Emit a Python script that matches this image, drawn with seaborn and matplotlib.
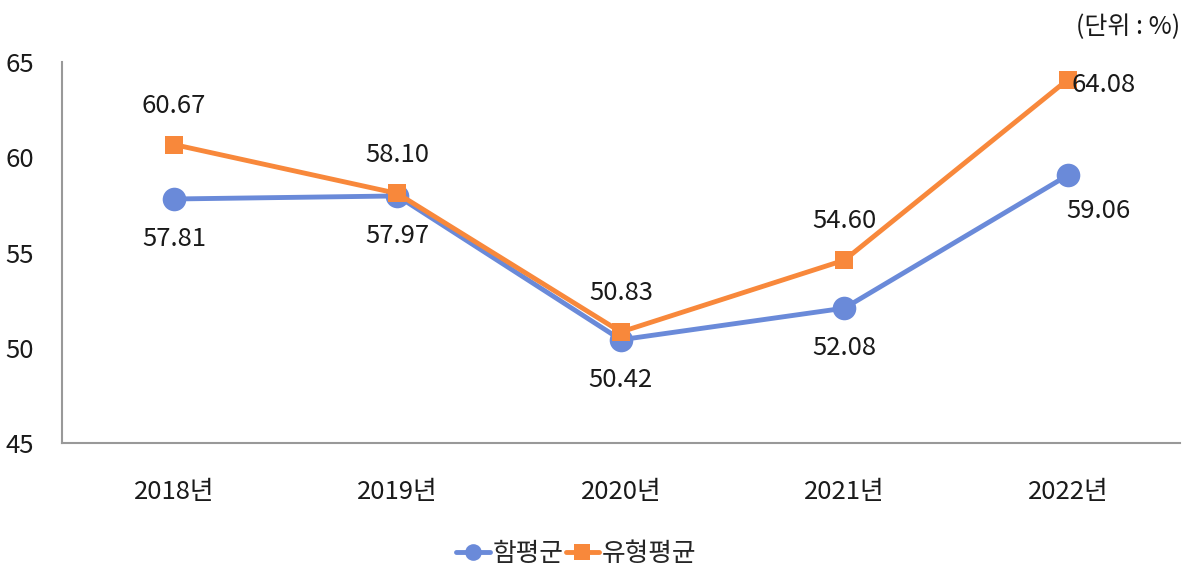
import pandas as pd
import matplotlib.pyplot as plt
import seaborn as sns

years = ['2018년', '2019년', '2020년', '2021년', '2022년']
ham = [57.81, 57.97, 50.42, 52.08, 59.06]
yuhyeong = [60.67, 58.10, 50.83, 54.60, 64.08]
series_names = ['함평군', '유형평균']

sns.set_style('white')
plt.rcParams['font.family'] = ['Noto Sans CJK KR', 'DejaVu Sans']

df = pd.DataFrame({
    'year': years * 2,
    'value': ham + yuhyeong,
    'series': [series_names[0]] * 5 + [series_names[1]] * 5,
})
df['x'] = list(range(5)) * 2

blue = '#6A8AD9'
orange = '#F8883B'
txt = '#1a1a1a'
fs = 18.5

fig = plt.figure(figsize=(11.94, 5.69), dpi=100)
ax = fig.add_axes([0.052, 0.2214, 0.936, 0.6696])

sns.lineplot(data=df, x='x', y='value', hue='series', style='series',
             palette=[blue, orange], markers=['o', 's'], dashes=False,
             markersize=15, linewidth=3.5, markeredgewidth=0, ax=ax)
ax.lines[0].set_markersize(17)
ax.lines[1].set_markersize(13)

ax.set_xlim(-0.5, 4.5)
ax.set_ylim(45, 65)
ax.set_yticks([45, 50, 55, 60, 65])
ax.set_xticks(range(5))
ax.set_xticklabels(years)
ax.set_xlabel('')
ax.set_ylabel('')
ax.tick_params(axis='both', length=0, labelsize=fs, colors=txt)
ax.tick_params(axis='x', pad=26)
ax.tick_params(axis='y', pad=20)
for s in ['top', 'right']:
    ax.spines[s].set_visible(False)
for s in ['left', 'bottom']:
    ax.spines[s].set_color('#999999')
    ax.spines[s].set_linewidth(1.5)

# data labels
for i in range(5):
    if i < 4:
        ax.annotate(f'{ham[i]:.2f}', (i, ham[i]), xytext=(0, -29), textcoords='offset points',
                    ha='center', va='center', fontsize=fs, color=txt)
        ax.annotate(f'{yuhyeong[i]:.2f}', (i, yuhyeong[i]), xytext=(0, 28), textcoords='offset points',
                    ha='center', va='center', fontsize=fs, color=txt)
    else:
        ax.annotate(f'{ham[i]:.2f}', (i, ham[i]), xytext=(22, -26), textcoords='offset points',
                    ha='center', va='center', fontsize=fs, color=txt)
        ax.annotate(f'{yuhyeong[i]:.2f}', (i, yuhyeong[i]), xytext=(26, -4), textcoords='offset points',
                    ha='center', va='center', fontsize=fs, color=txt)

fig.text(0.988, 0.953, '(단위 : %)', ha='right', va='center', fontsize=18, color=txt)

handles, labels = ax.get_legend_handles_labels()
ax.legend(handles, labels, loc='center', bbox_to_anchor=(0.46, -0.29), ncol=2, frameon=False,
          fontsize=fs, handlelength=1.3, handletextpad=0.1, columnspacing=0.1, markerscale=0.8,
          borderpad=0)

fig.savefig('out.png', dpi=100)
